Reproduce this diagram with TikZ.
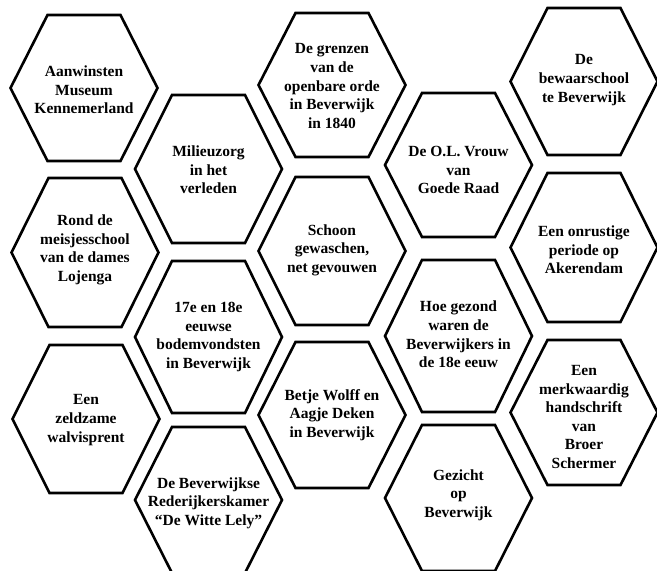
\documentclass[tikz,border=0pt]{standalone}
\usepackage{fontspec}
\setmainfont{Liberation Serif}
\tikzset{
  hexline/.style={line width=2.6pt, line join=miter},
  hextext/.style={align=center, inner sep=0pt, font=\bfseries\fontsize{15.5}{18.6}\selectfont}
}
\newcommand\hexnode[6]{% name, x, y, half height, text y, text
  \draw[hexline,shift={(#2,#3)}] (-73.5,0) -- (-36.5,-#4) -- (36.5,-#4) -- (73.5,0) -- (36.5,#4) -- (-36.5,#4) -- cycle;
  \node[hextext] (#1) at (#2,#5) {#6};
}
\begin{document}
\begin{tikzpicture}[x=1pt,y=-1pt]
\useasboundingbox (0,0) rectangle (657,571);
\hexnode{a1}{84}{88}{73}{90}{Aanwinsten\\Museum\\Kennemerland}
\hexnode{a2}{85}{252.5}{74.5}{250}{Rond de\\meisjesschool\\van de dames\\Lojenga}
\hexnode{a3}{86}{419}{74}{420}{Een\\zeldzame\\walvisprent}
\hexnode{b1}{208.5}{169}{74}{170}{Milieuzorg\\in het\\verleden}
\hexnode{b2}{208.5}{337}{76}{337}{17e en 18e\\eeuwse\\bodemvondsten\\in Beverwijk}
\hexnode{b3}{208.5}{500}{73}{503}{De Beverwijkse\\Rederijkerskamer\\“De Witte Lely”}
\hexnode{c1}{332}{85}{72}{86}{De grenzen\\van de\\openbare orde\\in Beverwijk\\in 1840}
\hexnode{c2}{332}{251}{74}{250}{Schoon\\gewaschen,\\net gevouwen}
\hexnode{c3}{332}{415}{73}{415}{Betje Wolff en\\Aagje Deken\\in Beverwijk}
\hexnode{d1}{458.5}{165}{72}{170}{De O.L. Vrouw\\van\\Goede Raad}
\hexnode{d2}{458.5}{336}{76}{334.5}{Hoe gezond\\waren de\\Beverwijkers in\\de 18e eeuw}
\hexnode{d3}{458.5}{498}{73}{495}{Gezicht\\op\\Beverwijk}
\hexnode{e1}{584}{81.5}{73.5}{80}{De\\bewaarschool\\te Beverwijk}
\hexnode{e2}{584}{247.5}{74.5}{250}{Een onrustige\\periode op\\Akerendam}
\hexnode{e3}{584}{412.5}{72.5}{417}{\fontsize{15.5}{17.6}\selectfont Een\\merkwaardig\\handschrift\\van\\Broer\\Schermer}
\end{tikzpicture}
\end{document}
